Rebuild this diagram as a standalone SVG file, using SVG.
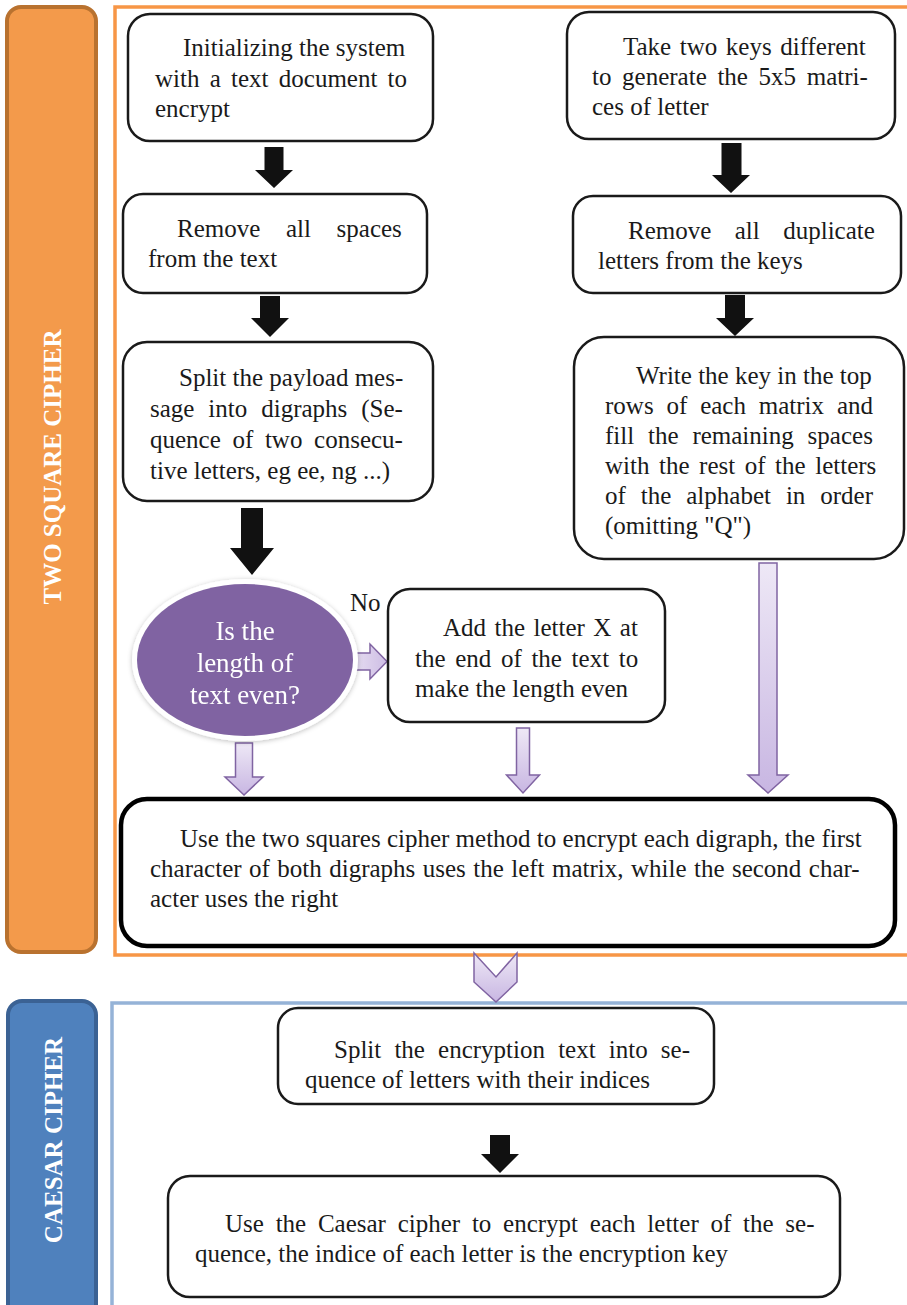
<svg xmlns="http://www.w3.org/2000/svg" width="907" height="1305" viewBox="0 0 907 1305">
  <defs>
    <linearGradient id="lilac" x1="0" y1="0" x2="0" y2="1">
      <stop offset="0" stop-color="#EEE8F6"/>
      <stop offset="1" stop-color="#C8B6E2"/>
    </linearGradient>
    <linearGradient id="lilacH" x1="0" y1="0" x2="1" y2="0">
      <stop offset="0" stop-color="#E6DDF1"/>
      <stop offset="1" stop-color="#CDBDE4"/>
    </linearGradient>
    <filter id="soft" x="-20%" y="-20%" width="140%" height="140%">
      <feGaussianBlur in="SourceAlpha" stdDeviation="2.5"/>
      <feOffset dx="0" dy="1" result="b"/>
      <feFlood flood-color="#000" flood-opacity="0.25"/>
      <feComposite in2="b" operator="in"/>
      <feMerge><feMergeNode/><feMergeNode in="SourceGraphic"/></feMerge>
    </filter>
  </defs>
  <style>
    .box { fill: #fff; stroke: #1a1a1a; stroke-width: 2.5; }
    .bold-box { fill: #fff; stroke: #000; stroke-width: 4.5; }
    .t { font-family: "Liberation Serif", "Times New Roman", serif; font-size: 25px; fill: #1a1a1a; }
    .lane { font-family: "Liberation Serif", "Times New Roman", serif; font-size: 25px; font-weight: bold; fill: #fff; text-anchor: middle; }
    .q { font-family: "Liberation Serif", "Times New Roman", serif; font-size: 27px; fill: #fff; text-anchor: middle; }
    .blk { fill: #111; }
    .hollow { fill: url(#lilac); stroke: #8064A2; stroke-width: 1.5; stroke-linejoin: miter; }
  </style>

  <rect width="907" height="1305" fill="#fff"/>

  <!-- lanes -->
  <g id="lane-two-square">
    <rect x="7" y="7" width="89" height="945" rx="14" fill="#F39A4B" stroke="#B9722F" stroke-width="4"/>
    <text class="lane" transform="translate(61,467) rotate(-90)">TWO SQUARE CIPHER</text>
    <rect x="115" y="7" width="820" height="948" fill="none" stroke="#F79646" stroke-width="3.5"/>
  </g>
  <g id="lane-caesar">
    <rect x="8" y="1001" width="88" height="330" rx="14" fill="#4F81BD" stroke="#3B6294" stroke-width="4"/>
    <text class="lane" transform="translate(62,1140) rotate(-90)">CAESAR CIPHER</text>
    <rect x="112" y="1003" width="820" height="400" fill="none" stroke="#95B3D7" stroke-width="3.5"/>
  </g>

  <!-- connectors -->
  <g id="connectors">
    <path class="blk" d="M264.5,147 H283.5 V170 H293 L274,188 L255,170 H264.5 Z"/>
    <path class="blk" d="M260,296 H280 V318 H289 L270,337 L251,318 H260 Z"/>
    <path class="blk" d="M241,508 H263 V548 H274 L252,575 L230,548 H241 Z"/>
    <path class="blk" d="M721.5,143 H741.5 V175 H750 L731,193 L712,175 H721.5 Z"/>
    <path class="blk" d="M725,295 H745 V318 H754 L735,336 L716,318 H725 Z"/>
    <path class="blk" d="M490,1135 H510 V1154 H519 L500,1173 L481,1154 H490 Z"/>

    <path class="hollow" style="fill:url(#lilacH)" d="M354,653 H370 V644 L387,661.5 L370,679 V670 H354 Z"/>
    <path class="hollow" d="M235.5,743 H252.5 V777 H263 L244,795 L225,777 H235.5 Z"/>
    <path class="hollow" d="M516.5,728 H529.5 V775 H539.5 L523,793 L506.5,775 H516.5 Z"/>
    <path class="hollow" d="M759,563 H777 V775 H788 L768,793 L748,775 H759 Z"/>
    <path class="hollow" d="M474,953 L496,977 L517,953 V982 L496,1002 L474,982 Z"/>
  </g>

  <!-- two-square steps, left column -->
  <g id="n-init">
    <rect class="box" x="128" y="14" width="305" height="127" rx="22"/>
    <text class="t" x="183" y="56">Initializing the system</text>
    <text class="t" x="155" y="87" word-spacing="4">with a text document to</text>
    <text class="t" x="155" y="117">encrypt</text>
  </g>
  <g id="n-remove-spaces">
    <rect class="box" x="123" y="194" width="304" height="99" rx="20"/>
    <text class="t" x="177" y="237" word-spacing="19.4">Remove all spaces</text>
    <text class="t" x="148" y="267">from the text</text>
  </g>
  <g id="n-digraphs">
    <rect class="box" x="123" y="342" width="310" height="159" rx="24"/>
    <text class="t" x="179" y="386">Split the payload mes-</text>
    <text class="t" x="150" y="417" word-spacing="7.7">sage into digraphs (Se-</text>
    <text class="t" x="150" y="448" word-spacing="5.4">quence of two consecu-</text>
    <text class="t" x="150" y="479">tive letters, eg ee, ng ...)</text>
  </g>
  <g id="n-even" filter="url(#soft)">
    <ellipse cx="245" cy="660" rx="113" ry="81" fill="#fff"/>
    <ellipse cx="245" cy="660" rx="108" ry="76" fill="#8064A2"/>
    <text class="q" x="245" y="640">Is the</text>
    <text class="q" x="245" y="672">length of</text>
    <text class="q" x="245" y="704">text even?</text>
  </g>
  <text class="t" x="350" y="611">No</text>
  <g id="n-add-x">
    <rect class="box" x="388" y="589" width="277" height="133" rx="22"/>
    <text class="t" x="443" y="636" word-spacing="2.2">Add the letter X at</text>
    <text class="t" x="415" y="667" word-spacing="3.4">the end of the text to</text>
    <text class="t" x="415" y="697">make the length even</text>
  </g>

  <!-- two-square steps, right column -->
  <g id="n-keys">
    <rect class="box" x="567" y="12" width="328" height="127" rx="22"/>
    <text class="t" x="623" y="55" word-spacing="2.3">Take two keys different</text>
    <text class="t" x="592" y="85" word-spacing="4.4">to generate the 5x5 matri-</text>
    <text class="t" x="592" y="115">ces of letter</text>
  </g>
  <g id="n-dedupe">
    <rect class="box" x="573" y="196" width="328" height="97" rx="20"/>
    <text class="t" x="628" y="239" word-spacing="17.2">Remove all duplicate</text>
    <text class="t" x="598" y="269">letters from the keys</text>
  </g>
  <g id="n-fill">
    <rect class="box" x="574" y="337" width="330" height="222" rx="30"/>
    <text class="t" x="636" y="384">Write the key in the top</text>
    <text class="t" x="605" y="414" word-spacing="6.6">rows of each matrix and</text>
    <text class="t" x="605" y="444" word-spacing="7.6">fill the remaining spaces</text>
    <text class="t" x="605" y="474" word-spacing="3.3">with the rest of the letters</text>
    <text class="t" x="605" y="504" word-spacing="8.7">of the alphabet in order</text>
    <text class="t" x="605" y="534">(omitting "Q")</text>
  </g>

  <g id="n-encrypt-digraphs">
    <rect class="bold-box" x="121" y="799" width="774" height="147" rx="26"/>
    <text class="t" x="180" y="847">Use the two squares cipher method to encrypt each digraph, the first</text>
    <text class="t" x="150" y="877" word-spacing="1.2">character of both digraphs uses the left matrix, while the second char-</text>
    <text class="t" x="150" y="907">acter uses the right</text>
  </g>

  <!-- caesar steps -->
  <g id="n-split-letters">
    <rect class="box" x="278" y="1008" width="436" height="96" rx="20"/>
    <text class="t" x="334" y="1058" word-spacing="6.9">Split the encryption text into se-</text>
    <text class="t" x="305" y="1088">quence of letters with their indices</text>
  </g>
  <g id="n-caesar">
    <rect class="box" x="168" y="1176" width="672" height="121" rx="22"/>
    <text class="t" x="225" y="1232" word-spacing="5.5">Use the Caesar cipher to encrypt each letter of the se-</text>
    <text class="t" x="195" y="1262">quence, the indice of each letter is the encryption key</text>
  </g>
</svg>
